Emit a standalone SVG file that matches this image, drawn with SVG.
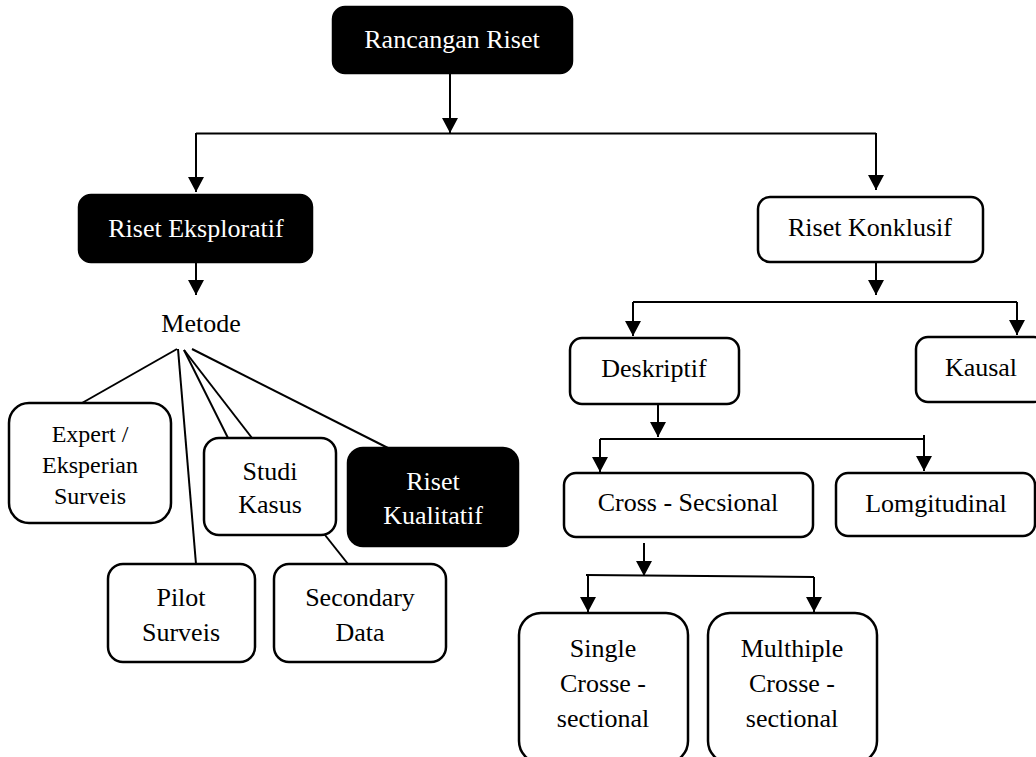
<svg xmlns="http://www.w3.org/2000/svg" width="1036" height="757" viewBox="0 0 1036 757">
<defs>
<style>
.box{fill:#fff;stroke:#000;stroke-width:2.5}
.dark{fill:#000;stroke:#000;stroke-width:2.5}
.t{font-family:"Liberation Serif","Times New Roman",serif;font-size:26px;fill:#000;text-anchor:middle}
.tw{font-family:"Liberation Serif","Times New Roman",serif;font-size:26px;fill:#fff;text-anchor:middle}
.ts{font-family:"Liberation Serif","Times New Roman",serif;font-size:24px;fill:#000;text-anchor:middle}
.c{stroke:#000;stroke-width:2;fill:none}
.a{stroke:#000;stroke-width:2;fill:none;marker-end:url(#arr)}
</style>
<marker id="arr" viewBox="0 0 15 16" refX="15" refY="8" markerWidth="15" markerHeight="16" markerUnits="userSpaceOnUse" orient="auto">
<path d="M0,0 L15,8 L0,16 z" fill="#000"/>
</marker>
</defs>
<rect width="1036" height="757" fill="#fff"/>
<g id="connectors">
<line class="a" x1="450" y1="73" x2="450" y2="133"/>
<line class="c" x1="196" y1="133.5" x2="876" y2="133.5"/>
<line class="a" x1="196" y1="133" x2="196" y2="192"/>
<line class="a" x1="876" y1="133" x2="876" y2="190"/>
<line class="a" x1="196" y1="262" x2="196" y2="295"/>
<line class="c" x1="177" y1="349" x2="82" y2="403"/>
<line class="c" x1="178" y1="349" x2="196" y2="564"/>
<line class="c" x1="184" y1="350" x2="228" y2="438"/>
<line class="c" x1="184" y1="350" x2="252" y2="438"/>
<line class="c" x1="192" y1="349" x2="388" y2="448"/>
<line class="c" x1="325" y1="535" x2="348" y2="564"/>
<line class="a" x1="876" y1="262" x2="876" y2="295"/>
<line class="c" x1="633" y1="302" x2="1017" y2="302"/>
<line class="a" x1="633" y1="302" x2="633" y2="336"/>
<line class="a" x1="1017" y1="302" x2="1017" y2="335"/>
<line class="a" x1="658" y1="404" x2="658" y2="437"/>
<line class="c" x1="600" y1="439" x2="924" y2="439"/>
<line class="a" x1="600" y1="439" x2="600" y2="472"/>
<line class="a" x1="924" y1="435" x2="924" y2="471"/>
<line class="a" x1="644" y1="543" x2="644" y2="576"/>
<line class="c" x1="586" y1="575" x2="814" y2="577"/>
<line class="a" x1="588" y1="575" x2="588" y2="612"/>
<line class="a" x1="814" y1="577" x2="814" y2="612"/>
</g>
<g id="n-rancangan">
<rect class="dark" x="333" y="7" width="239" height="66" rx="12"/>
<text class="tw" x="452" y="48">Rancangan Riset</text>
</g>
<g id="n-eksploratif">
<rect class="dark" x="79" y="195" width="233" height="67" rx="12"/>
<text class="tw" x="196" y="237">Riset Eksploratif</text>
</g>
<g id="n-metode">
<text class="t" x="201" y="332">Metode</text>
</g>
<g id="n-expert">
<rect class="box" x="9" y="403" width="162" height="120" rx="20"/>
<text class="ts" x="90" y="442">Expert /</text>
<text class="ts" x="90" y="473">Eksperian</text>
<text class="ts" x="90" y="504">Surveis</text>
</g>
<g id="n-studi">
<rect class="box" x="204" y="438" width="132" height="97" rx="15"/>
<text class="t" x="270" y="480">Studi</text>
<text class="t" x="270" y="513">Kasus</text>
</g>
<g id="n-kualitatif">
<rect class="dark" x="348" y="448" width="170" height="98" rx="15"/>
<text class="tw" x="433" y="490">Riset</text>
<text class="tw" x="433" y="524">Kualitatif</text>
</g>
<g id="n-pilot">
<rect class="box" x="108" y="564" width="147" height="98" rx="15"/>
<text class="t" x="181" y="606">Pilot</text>
<text class="t" x="181" y="641">Surveis</text>
</g>
<g id="n-secondary">
<rect class="box" x="274" y="564" width="172" height="98" rx="15"/>
<text class="t" x="360" y="606">Secondary</text>
<text class="t" x="360" y="641">Data</text>
</g>
<g id="n-konklusif">
<rect class="box" x="758" y="197" width="225" height="65" rx="12"/>
<text class="t" x="870" y="236">Riset Konklusif</text>
</g>
<g id="n-deskriptif">
<rect class="box" x="570" y="338" width="169" height="66" rx="12"/>
<text class="t" x="654" y="377">Deskriptif</text>
</g>
<g id="n-kausal">
<rect class="box" x="916" y="337" width="130" height="65" rx="12"/>
<text class="t" x="981" y="376">Kausal</text>
</g>
<g id="n-cross">
<rect class="box" x="564" y="473" width="249" height="64" rx="12"/>
<text class="t" x="688" y="511">Cross - Secsional</text>
</g>
<g id="n-longitudinal">
<rect class="box" x="836" y="473" width="199" height="63" rx="12"/>
<text class="t" x="936" y="512">Lomgitudinal</text>
</g>
<g id="n-single">
<rect class="box" x="519" y="613" width="169" height="150" rx="22"/>
<text class="t" x="603" y="657">Single</text>
<text class="t" x="603" y="692">Crosse -</text>
<text class="t" x="603" y="727">sectional</text>
</g>
<g id="n-multiple">
<rect class="box" x="708" y="613" width="169" height="150" rx="22"/>
<text class="t" x="792" y="657">Multhiple</text>
<text class="t" x="792" y="692">Crosse -</text>
<text class="t" x="792" y="727">sectional</text>
</g>
</svg>
